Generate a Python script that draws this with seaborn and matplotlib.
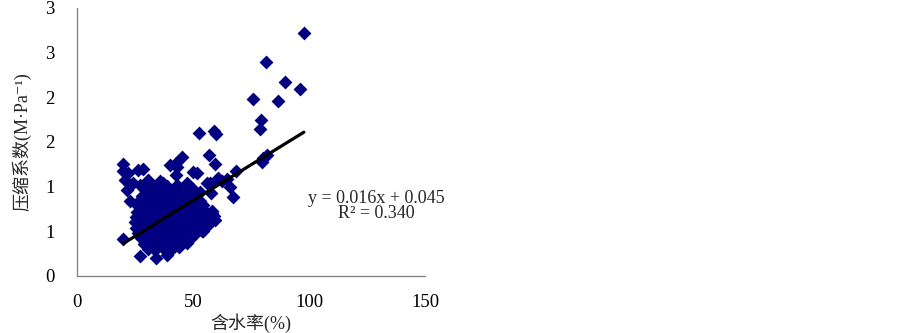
import matplotlib
matplotlib.use("Agg")
import matplotlib.pyplot as plt
import seaborn as sns
import numpy as np
import pandas as pd

# scattered points around the main cluster (water content %, compression coefficient)
outer_x = [97.8, 81.5, 89.7, 96.1, 75.9, 86.6, 79.3, 78.9, 80.2, 81.9, 79.6,
           52.6, 59.1, 59.7, 56.9, 59.5, 45.1, 42.5, 40.1, 43.2, 49.9, 42.7,
           51.6, 57.3, 60.8, 62.4, 64.5, 66.0, 67.1, 68.5, 55.9, 53.0, 57.8,
           20.0, 20.0, 20.7, 21.7, 22.8, 26.4, 28.4, 22.0, 24.2, 27.2, 30.7,
           35.8, 37.1,
           20.0, 27.2, 34.1, 38.9, 41.2, 47.3, 54.4, 58.1, 59.5, 53.7]
outer_y = [2.72, 2.40, 2.17, 2.09, 1.98, 1.96, 1.75, 1.65, 1.32, 1.36, 1.28,
           1.60, 1.62, 1.59, 1.35, 1.25, 1.33, 1.27, 1.24, 1.22, 1.16, 1.13,
           1.15, 1.04, 1.10, 1.06, 1.09, 1.00, 0.88, 1.17, 1.04, 0.94, 0.93,
           1.25, 1.17, 1.08, 0.96, 0.84, 1.19, 1.20, 1.15, 1.04, 1.02, 1.07,
           1.06, 1.04,
           0.41, 0.22, 0.20, 0.24, 0.31, 0.40, 0.50, 0.70, 0.63, 0.65]

# dense core of the cluster
core_x = [30.5, 33.8, 37.2, 40.6, 43.9,
          28.9, 31.7, 35.4, 38.1, 41.8, 44.7, 47.3,
          27.6, 30.2, 33.1, 36.7, 39.4, 42.5, 45.8, 48.9,
          26.1, 29.3, 32.4, 34.9, 38.2, 41.1, 44.3, 47.6, 51.2, 53.9,
          25.4, 28.0, 31.2, 33.7, 37.5, 40.3, 43.0, 46.4, 49.8, 52.6, 55.1,
          25.0, 27.7, 30.6, 34.2, 36.8, 39.9, 42.6, 45.2, 48.3, 51.5, 54.7, 57.6,
          25.3, 28.5, 31.9, 35.0, 38.6, 41.4, 44.8, 47.1, 50.6, 53.3, 56.2, 59.0,
          25.8, 29.1, 32.6, 35.7, 38.0, 41.9, 44.0, 46.9, 49.2, 52.8, 55.5, 58.3,
          26.4, 29.8, 33.3, 36.3, 39.5, 42.2, 45.6, 48.7, 51.9, 54.2,
          26.9, 30.4, 34.5, 37.6, 40.8, 43.7, 46.2, 49.5, 53.0,
          28.2, 31.5, 35.1, 38.4, 42.0, 45.3, 48.1, 51.4,
          29.5, 33.0, 36.2, 39.7, 43.4, 46.8, 50.2,
          31.2, 34.8, 38.9, 42.9, 47.5]
core_y = [0.30, 0.29, 0.31, 0.30, 0.32,
          0.36, 0.37, 0.35, 0.36, 0.38, 0.36, 0.37,
          0.42, 0.43, 0.41, 0.42, 0.44, 0.42, 0.43, 0.41,
          0.48, 0.49, 0.47, 0.48, 0.50, 0.48, 0.47, 0.49, 0.48, 0.50,
          0.54, 0.55, 0.53, 0.54, 0.56, 0.54, 0.53, 0.55, 0.54, 0.56, 0.54,
          0.60, 0.61, 0.59, 0.60, 0.62, 0.60, 0.61, 0.59, 0.60, 0.62, 0.60, 0.61,
          0.66, 0.67, 0.65, 0.66, 0.68, 0.66, 0.65, 0.67, 0.66, 0.68, 0.66, 0.67,
          0.72, 0.73, 0.71, 0.72, 0.74, 0.72, 0.71, 0.73, 0.72, 0.74, 0.72, 0.73,
          0.78, 0.79, 0.77, 0.78, 0.80, 0.78, 0.79, 0.77, 0.78, 0.80,
          0.84, 0.85, 0.83, 0.84, 0.86, 0.84, 0.85, 0.83, 0.84,
          0.90, 0.91, 0.89, 0.90, 0.92, 0.90, 0.91, 0.89,
          0.96, 0.97, 0.95, 0.96, 0.98, 0.96, 0.97,
          1.02, 1.03, 1.01, 1.02, 1.04]

slope = 0.016
intercept = 0.045
r2 = 0.340

x_ticks = [0, 50, 100, 150]
y_ticks = [0, 0.5, 1.0, 1.5, 2.0, 2.5, 3.0]
y_tick_labels = ["0", "1", "1", "2", "2", "3", "3"]

df = pd.DataFrame({"w": outer_x + core_x, "a": outer_y + core_y})

sns.set_style("white")
plt.rcParams["font.family"] = ["Liberation Serif", "Noto Sans CJK SC", "DejaVu Sans"]

fig = plt.figure(figsize=(9.03, 3.33), dpi=100)
ax = fig.add_axes([77 / 903, 57 / 333, 348 / 903, 268 / 333])

sns.scatterplot(data=df, x="w", y="a", marker="D", color="#000080", s=50,
                linewidth=0, ax=ax, zorder=2)

# trend line over the data range
lx = np.array([df["w"].min(), df["w"].max()])
sns.lineplot(x=lx, y=slope * lx + intercept, color="black", linewidth=2.3,
             ax=ax, zorder=3)

ax.set_xlim(0, 150)
ax.set_ylim(0, 3)
ax.set_xticks(x_ticks)
ax.set_xticklabels([str(t) for t in x_ticks])
ax.set_yticks(y_ticks)
ax.set_yticklabels(y_tick_labels)
ax.tick_params(direction="in", length=4, width=0.8, color="#808080",
               labelsize=13.5, labelcolor="black")
ax.tick_params(axis="x", pad=13)
ax.tick_params(axis="y", pad=16)

for s in ["top", "right"]:
    ax.spines[s].set_visible(False)
for s in ["left", "bottom"]:
    ax.spines[s].set_color("#808080")
    ax.spines[s].set_linewidth(0.9)

ax.set_xlabel("含水率(%)", fontsize=13, labelpad=2)
ax.set_ylabel("压缩系数(M·Pa⁻¹)", fontsize=13, labelpad=10)

ax.text(128.9, 0.78, f"y = {slope}x + {intercept}\nR² = {r2:.3f}",
        ha="center", va="center", fontsize=13, linespacing=0.85)

fig.savefig("out.png", dpi=100)
